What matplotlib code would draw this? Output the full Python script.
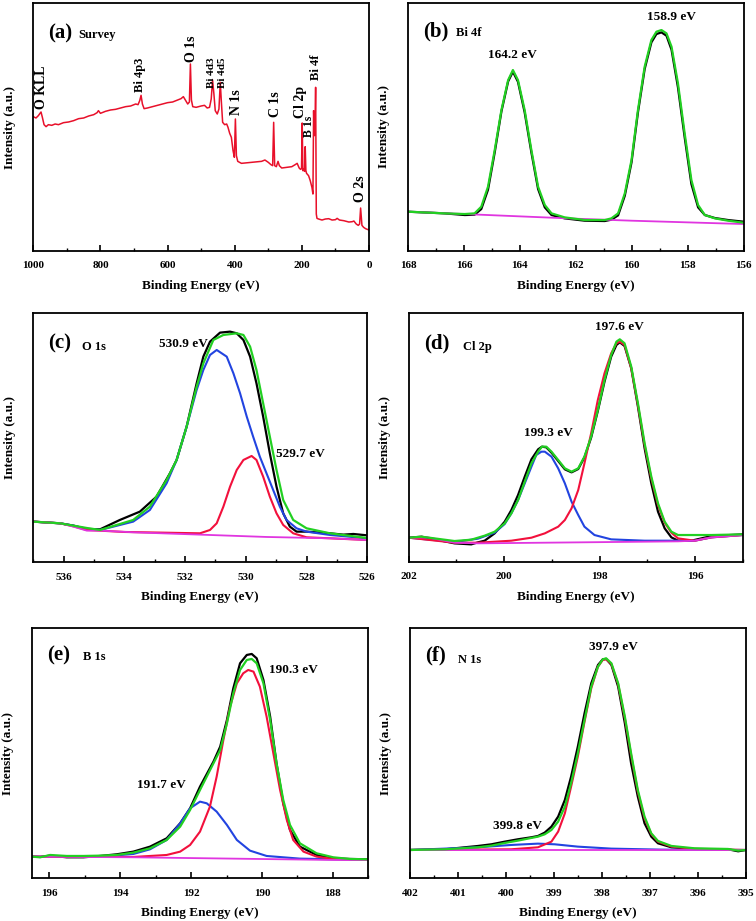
import matplotlib.pyplot as plt
from matplotlib.ticker import MultipleLocator

plt.rcParams['font.family'] = ['Liberation Serif', 'DejaVu Serif']
plt.rcParams['font.weight'] = 'bold'

# ---------------- (a) survey ----------------
survey_e = [1000, 992, 985, 980, 977, 973, 968, 962, 955, 945, 935, 925, 910, 895, 880, 865,
            850, 835, 820, 810, 806, 800, 785, 770, 755, 740, 725, 710, 695, 688, 683, 679,
            675, 670, 660, 645, 630, 615, 600, 585, 570, 560, 553, 547, 540, 535, 532, 529,
            525, 515, 500, 490, 482, 475, 470, 466, 462, 458, 452, 447, 443, 440, 436, 430,
            424, 420, 415, 410, 405, 401, 398, 395, 391, 380, 360, 340, 320, 310, 300, 292,
            287, 284, 281, 276, 271, 267, 260, 245, 230, 220, 214, 208, 204, 201, 199, 197,
            194, 192, 190, 188, 186, 180, 175, 170, 167, 165, 163, 161, 159, 157, 155, 150,
            140, 130, 120, 110, 100, 95, 88, 75, 60, 50, 45, 38, 32, 28, 25, 21, 16, 10, 5, 0]
survey_i = [402, 398, 405, 412, 416, 400, 378, 372, 378, 376, 380, 378, 384, 386, 390, 396,
            398, 404, 408, 414, 420, 412, 418, 422, 424, 428, 432, 434, 440, 438, 450, 466,
            440, 426, 428, 432, 436, 440, 444, 446, 452, 456, 462, 452, 440, 446, 560, 452,
            432, 430, 434, 436, 428, 430, 455, 512, 470, 420, 410, 425, 505, 450, 385, 378,
            380, 370, 352, 340, 300, 280, 395, 285, 268, 262, 264, 266, 268, 272, 265, 258,
            255, 385, 255, 252, 268, 255, 248, 250, 252, 258, 262, 248, 244, 246, 383, 240,
            245, 238, 312, 240, 232, 225, 210, 190, 170, 420, 345, 355, 490, 110, 97, 95,
            92, 95, 96, 92, 93, 97, 92, 90, 86, 87, 89, 80, 76, 80, 128, 76, 70, 66, 64, 62]
survey_peaks = ['O KLL', 'Bi 4p3', 'O 1s', 'Bi 4d3', 'Bi 4d5', 'N 1s',
                'C 1s', 'Cl 2p', 'B 1s', 'Bi 4f', 'O 2s']
survey_peak_e = [977, 682, 529, 470, 437, 396, 280, 205, 179, 159, 24]
survey_peak_i = [425, 477, 567, 487, 487, 407, 402, 397, 340, 512, 147]

# ---------------- (b) Bi 4f ----------------
bi_e = [168.00, 166.69, 165.97, 165.62, 165.38, 165.14, 164.90, 164.66, 164.42, 164.25,
        164.07, 163.83, 163.59, 163.35, 163.11, 162.87, 162.40, 161.68, 160.97, 160.73,
        160.49, 160.25, 160.01, 159.78, 159.54, 159.30, 159.12, 158.94, 158.76, 158.58,
        158.35, 158.11, 157.87, 157.63, 157.39, 157.03, 156.56, 156.00]
bi_fit = [117, 112, 110, 112, 132, 192, 302, 422, 512, 542, 512, 422, 302, 192, 137, 112,
          100, 92, 92, 97, 112, 172, 272, 422, 552, 632, 657, 662, 652, 612, 502, 352, 212,
          137, 107, 97, 90, 84]
bi_raw = [117, 112, 107, 108, 125, 183, 295, 418, 508, 537, 507, 415, 295, 185, 130, 107,
          97, 90, 89, 93, 106, 165, 265, 415, 545, 625, 650, 655, 645, 603, 490, 340, 200,
          130, 107, 98, 92, 87]
bi_bg_e = [168, 166, 164, 162, 160, 158, 156]
bi_bg = [117, 110, 103, 96, 90, 85, 80]

# ---------------- (c) O 1s ----------------
o_raw_e = [537.00, 536.12, 535.68, 535.24, 534.80, 534.15, 533.49, 532.94, 532.50, 532.28,
           531.95, 531.62, 531.40, 531.18, 530.85, 530.52, 530.30, 530.08, 529.86, 529.65,
           529.43, 529.21, 528.99, 528.77, 528.55, 528.33, 528.00, 527.23, 526.79, 526.46,
           526.02]
o_raw = [122, 117, 110, 100, 99, 127, 152, 197, 267, 307, 407, 537, 617, 662, 689, 692, 687,
         667, 617, 537, 437, 327, 227, 147, 107, 92, 92, 87, 83, 85, 81]
o_fit_e = [537.00, 536.12, 535.68, 535.24, 534.80, 533.71, 533.16, 532.61, 532.28, 531.95,
           531.62, 531.40, 531.07, 530.74, 530.30, 530.08, 529.86, 529.65, 529.43, 529.21,
           528.99, 528.77, 528.44, 528.00, 527.23, 526.02]
o_fit = [122, 117, 110, 103, 97, 127, 167, 247, 307, 407, 527, 597, 667, 682, 687, 682, 647,
         577, 477, 377, 277, 187, 127, 102, 87, 73]
o_p1_e = [537.00, 536.12, 535.68, 535.24, 534.80, 533.71, 533.16, 532.61, 532.28, 531.95,
          531.62, 531.40, 531.18, 530.96, 530.63, 530.41, 530.19, 529.97, 529.76, 529.54,
          529.32, 529.10, 528.88, 528.66, 528.33, 528.00, 527.23, 526.02]
o_p1 = [122, 117, 110, 100, 97, 122, 157, 237, 307, 407, 517, 577, 622, 637, 617, 567, 507,
        437, 377, 317, 267, 217, 167, 127, 102, 92, 82, 72]
o_p2_e = [537.00, 536.12, 535.68, 535.24, 534.00, 531.51, 531.18, 530.96, 530.74, 530.52,
          530.30, 530.08, 529.81, 529.65, 529.43, 529.21, 528.99, 528.77, 528.44, 528.00,
          527.23, 526.02]
o_p2 = [122, 117, 108, 97, 91, 87, 97, 117, 167, 227, 277, 307, 319, 307, 257, 197, 147,
        112, 87, 75, 72, 67]
o_bg_e = [537.00, 536.12, 535.68, 535.24, 534.80, 533.71, 531.51, 529.32, 527.23, 526.02]
o_bg = [122, 117, 107, 95, 95, 90, 83, 76, 72, 67]

# ---------------- (d) Cl 2p ----------------
cl_e = [202.00, 201.73, 201.04, 200.69, 200.55, 200.41, 200.20, 199.99, 199.85, 199.71,
        199.57, 199.43, 199.29, 199.21, 199.12, 199.01, 198.87, 198.73, 198.59, 198.45,
        198.32, 198.18, 198.04, 197.90, 197.76, 197.65, 197.58, 197.48, 197.34, 197.20,
        197.06, 196.92, 196.78, 196.64, 196.50, 196.36, 196.08, 195.66, 195.00]
cl_raw = [72, 75, 55, 52, 58, 63, 85, 120, 155, 200, 255, 307, 337, 345, 343, 327, 302, 277,
          268, 278, 313, 372, 452, 540, 615, 650, 658, 647, 580, 465, 340, 235, 150, 100,
          73, 63, 63, 77, 82]
cl_fit = [72, 75, 62, 66, 72, 78, 90, 115, 145, 185, 240, 295, 330, 345, 345, 330, 305, 280,
          270, 280, 315, 375, 455, 545, 620, 660, 667, 655, 585, 475, 355, 255, 175, 120,
          90, 80, 80, 80, 82]
cl_p1_e = [202.00, 201.04, 200.55, 200.20, 199.99, 199.85, 199.71, 199.57, 199.43, 199.33,
           199.22, 199.15, 199.01, 198.87, 198.73, 198.59, 198.45, 198.32, 198.11, 197.76,
           197.06, 196.01, 195.66, 195.00]
cl_p1 = [72, 59, 69, 87, 113, 145, 185, 235, 285, 320, 330, 330, 315, 280, 235, 180, 140,
         105, 80, 67, 63, 63, 73, 80]
cl_p2_e = [202.00, 201.04, 200.55, 199.85, 199.43, 199.15, 198.87, 198.73, 198.59, 198.45,
           198.32, 198.18, 198.04, 197.90, 197.76, 197.65, 197.58, 197.48, 197.34, 197.20,
           197.06, 196.92, 196.78, 196.64, 196.50, 196.36, 196.01, 195.66, 195.00]
cl_p2 = [72, 57, 57, 63, 72, 85, 105, 125, 160, 215, 295, 385, 485, 565, 625, 655, 660, 650,
         580, 470, 350, 250, 170, 117, 87, 70, 63, 73, 80]
cl_bg_e = [202.00, 201.60, 201.04, 200.55, 198.45, 196.36, 196.01, 195.66, 195.00]
cl_bg = [72, 73, 57, 55, 58, 61, 63, 73, 80]

# ---------------- (e) B 1s ----------------
b_e = [196.50, 196.26, 195.98, 195.51, 195.04, 194.57, 194.10, 193.63, 193.16, 192.69,
       192.31, 192.03, 191.75, 191.37, 191.18, 190.99, 190.81, 190.62, 190.43, 190.29,
       190.15, 189.96, 189.77, 189.59, 189.40, 189.21, 188.93, 188.46, 187.99, 187.52,
       187.00]
b_raw = [65, 64, 68, 63, 63, 67, 72, 80, 95, 120, 165, 210, 275, 350, 395, 475, 570, 645,
         670, 673, 660, 595, 485, 345, 225, 145, 95, 70, 60, 58, 57]
b_fit = [65, 63, 70, 67, 67, 68, 70, 77, 90, 115, 155, 205, 265, 345, 385, 465, 555, 625,
         655, 658, 645, 585, 475, 345, 235, 160, 105, 75, 63, 58, 57]
b_p1_e = [196.50, 194.57, 193.63, 193.16, 192.69, 192.31, 192.03, 191.75, 191.56, 191.28,
          190.99, 190.71, 190.34, 189.87, 188.93, 187.00]
b_p1 = [65, 65, 73, 87, 115, 165, 210, 230, 225, 200, 160, 115, 83, 67, 59, 55]
b_p2_e = [196.50, 193.63, 192.69, 192.31, 192.03, 191.75, 191.47, 191.28, 191.09, 190.90,
          190.71, 190.53, 190.39, 190.24, 190.06, 189.87, 189.68, 189.49, 189.30, 189.12,
          188.83, 188.46, 187.99, 187.00]
b_p2 = [65, 64, 70, 80, 100, 140, 215, 305, 415, 515, 585, 615, 625, 620, 575, 485, 375,
        265, 175, 115, 80, 65, 58, 55]
b_bg_e = [196.50, 193.63, 190.81, 187.99, 187.00]
b_bg = [65, 63, 59, 55, 55]

# ---------------- (f) N 1s ----------------
n_e = [402.00, 401.28, 400.59, 400.31, 400.03, 399.76, 399.48, 399.34, 399.20, 399.06,
       398.92, 398.78, 398.65, 398.51, 398.37, 398.23, 398.09, 397.99, 397.92, 397.81,
       397.67, 397.53, 397.40, 397.26, 397.12, 396.98, 396.84, 396.56, 396.08, 395.38,
       395.17, 395.00]
n_raw = [85, 87, 97, 102, 110, 117, 123, 127, 137, 155, 185, 235, 305, 395, 495, 585, 640,
         657, 658, 640, 575, 465, 345, 245, 165, 125, 105, 93, 88, 87, 81, 85]
n_fit = [85, 87, 93, 98, 106, 113, 121, 125, 132, 145, 170, 215, 285, 375, 475, 575, 635,
         657, 660, 645, 585, 485, 375, 265, 185, 135, 112, 97, 90, 88, 83, 85]
n_p1_e = [402.00, 400.59, 399.90, 399.34, 398.99, 398.51, 397.81, 396.77, 395.00]
n_p1 = [85, 93, 100, 104, 102, 95, 89, 86, 85]
n_p2_e = [402.00, 399.90, 399.34, 399.06, 398.92, 398.78, 398.65, 398.51, 398.37, 398.23,
          398.09, 397.99, 397.92, 397.81, 397.67, 397.53, 397.40, 397.26, 397.12, 396.98,
          396.84, 396.56, 396.08, 395.00]
n_p2 = [85, 87, 93, 110, 140, 195, 275, 365, 470, 570, 635, 655, 657, 643, 583, 480, 370,
        260, 180, 133, 110, 95, 88, 85]
n_bg_e = [402.0, 395.0]
n_bg = [85, 85]

GREEN = '#22d022'
RED = '#f2103c'
BLUE = '#2244e0'
MAGENTA = '#e035e0'

fig = plt.figure(figsize=(7.56, 9.21), dpi=100)


def panel(l, t, r, b):
    return fig.add_axes([l / 756, 1 - b / 921, (r - l) / 756, (b - t) / 921])


def style(ax, xlim, ylim, major, minor, tag, name, tagy, namex, namey):
    ax.set_xlim(*xlim)
    ax.set_ylim(*ylim)
    ax.xaxis.set_major_locator(MultipleLocator(major))
    ax.xaxis.set_minor_locator(MultipleLocator(minor))
    ax.set_yticks([])
    ax.tick_params(axis='x', which='major', direction='in', length=4, width=1.2,
                   labelsize=8, pad=7.5)
    ax.tick_params(axis='x', which='minor', direction='in', length=2.5, width=1.0)
    for lab in ax.get_xticklabels():
        lab.set_fontweight('bold')
    for s in ax.spines.values():
        s.set_linewidth(1.3)
    ax.set_xlabel('Binding Energy (eV)', fontsize=9.5, fontweight='bold', labelpad=7)
    ax.set_ylabel('Intensity (a.u.)', fontsize=9.5, fontweight='bold')
    ax.yaxis.set_label_coords(-0.053, 0.5)
    ax.text(0.045, tagy, tag, transform=ax.transAxes, fontsize=15, fontweight='bold',
            ha='left', va='center')
    ax.text(namex, namey, name, transform=ax.transAxes, fontsize=9, fontweight='bold',
            ha='left', va='center')


# (a)
ax = panel(33.3, 3.3, 369, 250.7)
ax.plot(survey_e, survey_i, color='#e8102a', lw=1.1)
label_size = {'Bi 4p3': 9, 'Bi 4d3': 8, 'Bi 4d5': 8, 'B 1s': 8.5, 'Bi 4f': 9}
for txt, e, i in zip(survey_peaks, survey_peak_e, survey_peak_i):
    ax.text(e, i, txt, rotation=90, ha='center', va='bottom',
            fontsize=label_size.get(txt, 10), fontweight='bold')
style(ax, (1000, 0), (0, 742), 200, 100, '(a)', 'Survey', 0.879, 0.134, 0.872)

# (b)
ax = panel(408, 2.7, 743.7, 250.7)
ax.plot(bi_e, bi_raw, color='black', lw=1.6)
ax.plot(bi_bg_e, bi_bg, color=MAGENTA, lw=1.3)
ax.plot(bi_e, bi_fit, color=GREEN, lw=1.6)
ax.text(164.25, 587, '164.2 eV', ha='center', va='center', fontsize=9.5, fontweight='bold')
ax.text(158.58, 702, '158.9 eV', ha='center', va='center', fontsize=9.5, fontweight='bold')
style(ax, (168, 156), (0, 744), 2, 1, '(b)', 'Bi 4f', 0.883, 0.144, 0.876)

# (c)
ax = panel(33.3, 313.3, 367.3, 562.3)
ax.plot(o_raw_e, o_raw, color='black', lw=1.6)
ax.plot(o_p1_e, o_p1, color=BLUE, lw=1.5)
ax.plot(o_p2_e, o_p2, color=RED, lw=1.5)
ax.plot(o_bg_e, o_bg, color=MAGENTA, lw=1.3)
ax.plot(o_fit_e, o_fit, color=GREEN, lw=1.6)
ax.text(532.06, 654, '530.9 eV', ha='center', va='center', fontsize=9.5, fontweight='bold')
ax.text(528.20, 325, '529.7 eV', ha='center', va='center', fontsize=9.5, fontweight='bold')
style(ax, (537, 526), (0, 747), 2, 1, '(c)', 'O 1s', 0.88, 0.145, 0.866)

# (d)
ax = panel(408.7, 313.3, 743, 561.7)
ax.plot(cl_e, cl_raw, color='black', lw=1.6)
ax.plot(cl_p1_e, cl_p1, color=BLUE, lw=1.5)
ax.plot(cl_p2_e, cl_p2, color=RED, lw=1.5)
ax.plot(cl_bg_e, cl_bg, color=MAGENTA, lw=1.3)
ax.plot(cl_e, cl_fit, color=GREEN, lw=1.6)
ax.text(197.58, 705, '197.6 eV', ha='center', va='center', fontsize=9.5, fontweight='bold')
ax.text(199.07, 387, '199.3 eV', ha='center', va='center', fontsize=9.5, fontweight='bold')
style(ax, (202, 195), (0, 745), 2, 1, '(d)', 'Cl 2p', 0.879, 0.163, 0.866)

# (e)
ax = panel(31.7, 628.3, 368.3, 878.3)
ax.plot(b_e, b_raw, color='black', lw=1.6)
ax.plot(b_p1_e, b_p1, color=BLUE, lw=1.5)
ax.plot(b_p2_e, b_p2, color=RED, lw=1.5)
ax.plot(b_bg_e, b_bg, color=MAGENTA, lw=1.3)
ax.plot(b_e, b_fit, color=GREEN, lw=1.6)
ax.text(189.12, 625, '190.3 eV', ha='center', va='center', fontsize=9.5, fontweight='bold')
ax.text(192.83, 280, '191.7 eV', ha='center', va='center', fontsize=9.5, fontweight='bold')
style(ax, (196.5, 187), (0, 750), 2, 1, '(e)', 'B 1s', 0.893, 0.153, 0.887)

# (f)
ax = panel(410.3, 628.3, 746.3, 878.3)
ax.plot(n_e, n_raw, color='black', lw=1.6)
ax.plot(n_p1_e, n_p1, color=BLUE, lw=1.5)
ax.plot(n_p2_e, n_p2, color=RED, lw=1.5)
ax.plot(n_bg_e, n_bg, color=MAGENTA, lw=1.3)
ax.plot(n_e, n_fit, color=GREEN, lw=1.6)
ax.text(397.76, 693, '397.9 eV', ha='center', va='center', fontsize=9.5, fontweight='bold')
ax.text(399.76, 157, '399.8 eV', ha='center', va='center', fontsize=9.5, fontweight='bold')
style(ax, (402, 395), (0, 750), 1, 0.5, '(f)', 'N 1s', 0.893, 0.142, 0.873)

fig.savefig('out.png', dpi=100)
